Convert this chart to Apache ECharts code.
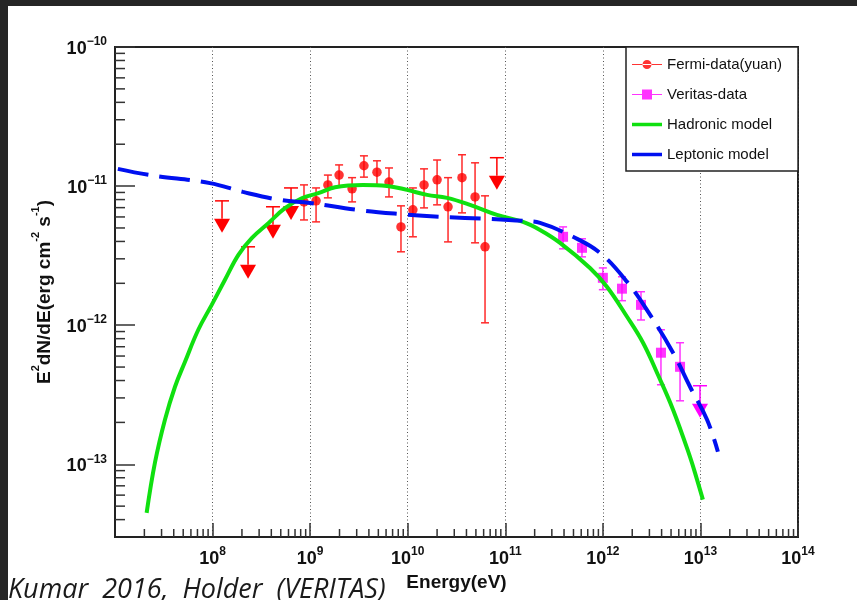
<!DOCTYPE html>
<html>
<head>
<meta charset="utf-8">
<script src="https://cdn.jsdelivr.net/npm/echarts@6/dist/echarts.min.js"></script>
<style>
  html, body { margin: 0; padding: 0; background: #fff; }
  #main { width: 857px; height: 600px; }
</style>
</head>
<body>
<div id="main"></div>
<script>
// Fermi points (eV, erg cm-2 s-1)
var fermiE  = [8.65e8, 1.15e9, 1.52e9, 1.98e9, 2.69e9, 3.56e9, 4.84e9, 6.43e9, 8.53e9, 1.13e10, 1.47e10, 2.0e10, 2.59e10, 3.6e10, 4.9e10, 6.2e10];
var fermiF  = [7.70e-12, 7.83e-12, 1.02e-11, 1.20e-11, 9.55e-12, 1.40e-11, 1.26e-11, 1.07e-11, 5.09e-12, 6.75e-12, 1.02e-11, 1.11e-11, 7.09e-12, 1.15e-11, 8.36e-12, 3.66e-12];
var fermiHi = [1.02e-11, 9.70e-12, 1.20e-11, 1.42e-11, 1.15e-11, 1.65e-11, 1.52e-11, 1.35e-11, 7.21e-12, 9.70e-12, 1.33e-11, 1.54e-11, 1.15e-11, 1.68e-11, 1.47e-11, 8.51e-12];
var fermiLo = [5.71e-12, 5.53e-12, 8.23e-12, 9.87e-12, 7.70e-12, 1.16e-11, 1.02e-11, 8.36e-12, 3.37e-12, 4.32e-12, 6.97e-12, 7.33e-12, 3.97e-12, 6.42e-12, 3.91e-12, 1.04e-12];
// Fermi upper limits
var fermiUlE = [1.25e8, 2.31e8, 4.16e8, 6.37e8, 8.2e10];
var fermiUlF = [7.83e-12, 3.66e-12, 7.1e-12, 9.7e-12, 1.6e-11];

// Veritas points
var veritasE  = [3.91e11, 6.11e11, 1.0e12, 1.57e12, 2.46e12, 3.94e12, 6.18e12];
var veritasF  = [4.32e-12, 3.60e-12, 2.19e-12, 1.83e-12, 1.40e-12, 6.34e-13, 5.02e-13];
var veritasHi = [5.09e-12, 4.18e-12, 2.58e-12, 2.23e-12, 1.74e-12, 9.27e-13, 7.48e-13];
var veritasLo = [3.54e-12, 3.10e-12, 1.80e-12, 1.50e-12, 1.09e-12, 3.73e-13, 2.86e-13];
var veritasUlE = [9.9e12];
var veritasUlF = [3.67e-13];

// models
var hadronicE = [2.11e7, 2.57e7, 3.25e7, 4.12e7, 5.22e7, 7.14e7, 9.80e7, 1.34e8, 1.84e8, 2.52e8, 3.73e8, 5.52e8, 8.19e8, 1.21e9, 1.80e9, 3.48e9, 6.14e9, 9.84e9, 1.58e10, 2.53e10, 4.35e10, 8.22e10, 1.52e11, 2.27e11, 3.64e11, 7.38e11, 1.10e12, 1.77e12, 2.58e12, 3.59e12, 5.24e12, 7.82e12, 9.23e12, 1.06e13];
var hadronicF = [4.47e-14, 1.03e-13, 2.09e-13, 3.61e-13, 5.46e-13, 9.27e-13, 1.40e-12, 2.12e-12, 3.20e-12, 4.23e-12, 5.41e-12, 6.94e-12, 8.18e-12, 8.89e-12, 9.82e-12, 1.02e-11, 1.003e-11, 9.39e-12, 8.65e-12, 8.23e-12, 7.33e-12, 6.21e-12, 5.53e-12, 4.84e-12, 3.91e-12, 2.58e-12, 1.89e-12, 1.15e-12, 7.48e-13, 4.55e-13, 2.47e-13, 1.13e-13, 7.75e-14, 5.57e-14];
var leptonicE = [1.07e7, 2.28e7, 9.41e7, 2.05e8, 4.91e8, 9.97e8, 3.02e9, 7.95e9, 2.14e10, 6.97e10, 1.52e11, 2.27e11, 4.94e11, 9.35e11, 1.77e12, 3.04e12, 5.24e12, 7.82e12, 1.17e13, 1.51e13];
var leptonicF = [1.33e-11, 1.20e-11, 1.05e-11, 9.08e-12, 7.96e-12, 7.57e-12, 6.75e-12, 6.31e-12, 6.01e-12, 5.81e-12, 5.62e-12, 5.44e-12, 4.32e-12, 3.31e-12, 2.05e-12, 1.19e-12, 6.34e-13, 3.61e-13, 2.09e-13, 1.23e-13];

var X_MIN = 7, X_MAX = 14;
var Y_MIN = Math.log10(3e-14), Y_MAX = -10;

function lg(v) { return Math.log10(v); }
function pairs(xs, ys) { return xs.map(function (x, i) { return [lg(x), lg(ys[i])]; }); }
function bars(xs, ys, lo, hi) { return xs.map(function (x, i) { return [lg(x), lg(ys[i]), lg(lo[i]), lg(hi[i])]; }); }

// minor ticks at 2..9 x 10^n
var xMinor = [], yMinor = [];
for (var n = 7; n < 14; n++) for (var k = 2; k <= 9; k++) xMinor.push([n + lg(k), Y_MIN]);
for (var m = -14; m < -10; m++) for (var j = 2; j <= 9; j++) {
  var v = m + lg(j);
  if (v > Y_MIN + 0.001 && v < Y_MAX) yMinor.push([X_MIN, v]);
}

var FONT = 'Liberation Sans';

function errRenderer(color) {
  return function (params, api) {
    var a = api.coord([api.value(0), api.value(2)]);
    var b = api.coord([api.value(0), api.value(3)]);
    var st = { stroke: color, lineWidth: 1.5 };
    return { type: 'group', children: [
      { type: 'line', shape: { x1: a[0], y1: a[1], x2: b[0], y2: b[1] }, style: st },
      { type: 'line', shape: { x1: a[0] - 4, y1: a[1], x2: a[0] + 4, y2: a[1] }, style: st },
      { type: 'line', shape: { x1: b[0] - 4, y1: b[1], x2: b[0] + 4, y2: b[1] }, style: st }
    ] };
  };
}

function ulRenderer(color) {
  return function (params, api) {
    var p = api.coord([api.value(0), api.value(1)]);
    var x = p[0], y = p[1], t = y + 18;
    var st = { stroke: color, lineWidth: 1.5 };
    return { type: 'group', children: [
      { type: 'line', shape: { x1: x - 7, y1: y, x2: x + 7, y2: y }, style: st },
      { type: 'line', shape: { x1: x, y1: y, x2: x, y2: t }, style: st },
      { type: 'polygon', shape: { points: [[x - 8, t], [x + 8, t], [x, t + 14]] }, style: { fill: color } }
    ] };
  };
}

var labelRich = {
  a: { fontFamily: FONT, fontSize: 18, fontWeight: 'bold', color: '#111', lineHeight: 22, verticalAlign: 'bottom' },
  b: { fontFamily: FONT, fontSize: 12, fontWeight: 'bold', color: '#111', lineHeight: 12, verticalAlign: 'top' }
};

var myChart = echarts.init(document.getElementById('main'));

var option = {
  animation: false,
  backgroundColor: '#fff',
  grid: { left: 115, right: 59, top: 47, bottom: 63, show: true, borderColor: '#222', borderWidth: 2, outerBoundsMode: 'none' },
  legend: {
    orient: 'vertical', left: 626, top: 47,
    itemWidth: 30, itemHeight: 16, itemGap: 15,
    padding: [10, 16, 9, 6],
    backgroundColor: '#fff', borderColor: '#222', borderWidth: 1.5,
    selectedMode: false,
    itemStyle: { borderWidth: 0 },
    textStyle: { fontFamily: FONT, fontSize: 15, color: '#111' },
    data: [
      { name: 'Fermi-data(yuan)', icon: 'path://M0,7.4H30V8.6H0Z M10.5,8a4.5,4.5 0 1,0 9,0a4.5,4.5 0 1,0 -9,0Z' },
      { name: 'Veritas-data', icon: 'path://M0,7.4H30V8.6H0Z M10,3H20V13H10Z' },
      { name: 'Hadronic model', icon: 'path://M0,0H30V3.5H0Z' },
      { name: 'Leptonic model', icon: 'path://M0,0H30V3.5H0Z' }
    ]
  },
  xAxis: {
    type: 'value', min: X_MIN, max: X_MAX, interval: 1,
    axisLine: { show: true, onZero: false, lineStyle: { color: '#222', width: 2 } },
    axisTick: { show: true, inside: true, length: 14, lineStyle: { color: '#333', width: 1.5 } },
    axisLabel: {
      showMinLabel: false, showMaxLabel: true, margin: 9,
      formatter: function (v) { return '{a|10}{b|' + Math.round(v) + '}'; },
      rich: labelRich
    },
    splitLine: { show: true, lineStyle: { color: '#555', width: 1, type: [1, 2.5] } },
    name: 'Energy(eV)', nameLocation: 'middle', nameGap: 29,
    nameTextStyle: { fontFamily: FONT, fontSize: 19, fontWeight: 'bold', color: '#111' }
  },
  yAxis: {
    type: 'value', min: Y_MIN, max: Y_MAX, minInterval: 1, maxInterval: 1,
    axisLine: { show: true, onZero: false, lineStyle: { color: '#222', width: 2 } },
    axisTick: { show: true, inside: true, length: 20, lineStyle: { color: '#333', width: 1.5 } },
    axisLabel: {
      showMinLabel: false, showMaxLabel: true, margin: 8,
      formatter: function (v) { return '{a|10}{b|\u2212' + Math.abs(Math.round(v)) + '}'; },
      rich: labelRich
    },
    splitLine: { show: false },
    name: '{t|E}{s|2}{t|dN/dE(erg cm}{s|-2}{t| s}{s|-1}{t|)}',
    nameLocation: 'middle', nameGap: 61, nameRotate: 90,
    nameTextStyle: {
      rich: {
        t: { fontFamily: FONT, fontSize: 19, fontWeight: 'bold', color: '#111', lineHeight: 24, verticalAlign: 'bottom' },
        s: { fontFamily: FONT, fontSize: 11, fontWeight: 'bold', color: '#111', lineHeight: 11, verticalAlign: 'top' }
      }
    }
  },
  series: [
    { name: 'fermi-err', type: 'custom', silent: true, renderItem: errRenderer('#ff2a2a'), data: bars(fermiE, fermiF, fermiLo, fermiHi) },
    { name: 'Fermi-data(yuan)', type: 'scatter', symbol: 'circle', symbolSize: 9.5, color: '#ff0000', itemStyle: { color: '#ff0000' }, data: pairs(fermiE, fermiF) },
    { name: 'fermi-ul', type: 'custom', silent: true, renderItem: ulRenderer('#ff0000'), data: pairs(fermiUlE, fermiUlF) },
    { name: 'veritas-err', type: 'custom', silent: true, renderItem: errRenderer('#ff33ff'), data: bars(veritasE, veritasF, veritasLo, veritasHi) },
    { name: 'Veritas-data', type: 'scatter', symbol: 'rect', symbolSize: 10, color: '#ff00ff', itemStyle: { color: '#ff00ff' }, data: pairs(veritasE, veritasF) },
    { name: 'veritas-ul', type: 'custom', silent: true, renderItem: ulRenderer('#ff00ff'), data: pairs(veritasUlE, veritasUlF) },
    { name: 'Hadronic model', type: 'line', color: '#10e010', symbol: 'none', showSymbol: false, smooth: 0.4,
      lineStyle: { color: '#10e010', width: 4 }, data: pairs(hadronicE, hadronicF) },
    { name: 'Leptonic model', type: 'line', color: '#0010f0', symbol: 'none', showSymbol: false, smooth: 0.4,
      lineStyle: { color: '#0010f0', width: 4, type: [31, 11] }, data: pairs(leptonicE, leptonicF) },
    { name: 'x-minor', type: 'custom', silent: true, clip: false, data: xMinor,
      renderItem: function (params, api) {
        var c = api.coord([api.value(0), Y_MIN]);
        return { type: 'line', shape: { x1: c[0], y1: c[1], x2: c[0], y2: c[1] - 8 }, style: { stroke: '#333', lineWidth: 1.5 } };
      } },
    { name: 'y-minor', type: 'custom', silent: true, clip: false, data: yMinor,
      renderItem: function (params, api) {
        var c = api.coord([X_MIN, api.value(1)]);
        return { type: 'line', shape: { x1: c[0], y1: c[1], x2: c[0] + 10, y2: c[1] }, style: { stroke: '#333', lineWidth: 1.5 } };
      } }
  ],
  graphic: [
    { type: 'rect', left: 0, top: 0, z: 100, shape: { width: 857, height: 6 }, style: { fill: '#262626' } },
    { type: 'rect', left: 0, top: 0, z: 100, shape: { width: 8, height: 600 }, style: { fill: '#262626' } },
    { type: 'text', left: 8, top: 577, z: 100, style: { text: 'Kumar  2016,  Holder  (VERITAS)', font: 'italic 27px "Open Sans"', fill: '#1a1a1a' } }
  ]
};

myChart.setOption(option);
</script>
</body>
</html>
